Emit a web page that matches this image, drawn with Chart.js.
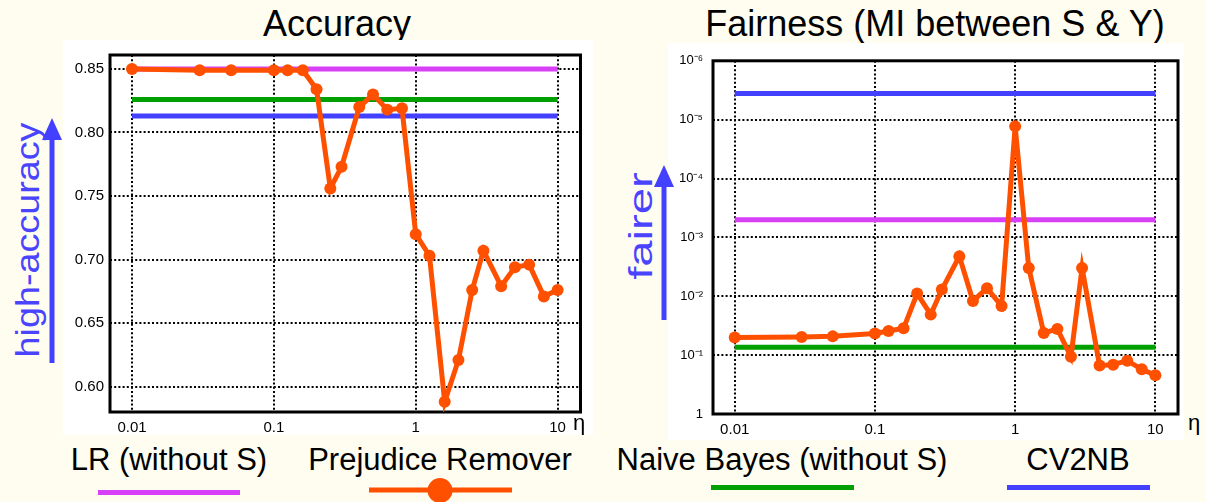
<!DOCTYPE html>
<html><head><meta charset="utf-8">
<script src="https://cdn.jsdelivr.net/npm/chart.js@4.4.0/dist/chart.umd.min.js"></script>
<style>
html,body{margin:0;padding:0;background:#fefdf0;}
body{width:1206px;height:502px;position:relative;overflow:hidden;font-family:"Liberation Sans",Arial,sans-serif;color:#000;}
.abs{position:absolute;white-space:nowrap;line-height:1;}
.title{font-size:36px;text-align:center;width:600px;}
.leg{font-size:31px;text-align:center;width:400px;}
.rot{color:#4a44ff;font-size:34px;}
.eta{font-size:22px;}
canvas{position:absolute;background:#fff;}
svg{position:absolute;left:0;top:0;}
</style></head>
<body>
<div class="abs title" style="left:37px;top:6px;">Accuracy</div>
<div class="abs title" style="left:635px;top:6px;">Fairness (MI between S &amp; Y)</div>

<div id="cL" style="position:absolute;left:63px;top:40px;width:530px;height:395px;"><canvas id="accChart" width="530" height="395"></canvas></div>
<div id="cR" style="position:absolute;left:668px;top:43px;width:516px;height:397px;"><canvas id="fairChart" width="516" height="397"></canvas></div>

<div class="abs rot" style="left:27px;top:240px;transform:translate(-50%,-50%) rotate(-90deg) scaleX(1.11);">high-accuracy</div>
<div class="abs rot" style="left:640px;top:226px;transform:translate(-50%,-50%) rotate(-90deg) scaleX(1.39);">fairer</div>

<div class="abs eta" style="left:573px;top:412px;">η</div>
<div class="abs eta" style="left:1188px;top:412px;">η</div>

<div class="abs leg" style="left:-31px;top:444px;">LR (without S)</div>
<div class="abs leg" style="left:240px;top:444px;">Prejudice Remover</div>
<div class="abs leg" style="left:582px;top:444px;">Naive Bayes (without S)</div>
<div class="abs leg" style="left:878px;top:444px;">CV2NB</div>

<svg width="1206" height="502">
  <line x1="52" y1="363" x2="52" y2="134" stroke="#4440ff" stroke-width="5"/>
  <polygon points="52,118 42,140 62,140" fill="#4440ff"/>
  <line x1="664" y1="320" x2="664" y2="181" stroke="#4440ff" stroke-width="5"/>
  <polygon points="664,165 654,187 674,187" fill="#4440ff"/>
  <line x1="98" y1="492.5" x2="240" y2="492.5" stroke="#d840f8" stroke-width="5"/>
  <line x1="369" y1="490" x2="512" y2="490" stroke="#ff5000" stroke-width="5"/>
  <circle cx="440" cy="490.5" r="12.5" fill="#ff5000"/>
  <line x1="711" y1="487.5" x2="854" y2="487.5" stroke="#00a000" stroke-width="5"/>
  <line x1="1007" y1="487.5" x2="1150" y2="487.5" stroke="#4440ff" stroke-width="5"/>
</svg>

<script>
// ---- data ----
const eta = [0.01, 0.03, 0.05, 0.1, 0.125, 0.16, 0.2, 0.25, 0.3, 0.4, 0.5, 0.63, 0.8, 1, 1.25, 1.6, 2, 2.5, 3, 4, 5, 6.3, 8, 10];
const accPR = [0.850, 0.849, 0.849, 0.849, 0.849, 0.849, 0.834, 0.756, 0.773, 0.820, 0.830, 0.818, 0.819, 0.720, 0.703, 0.588, 0.621, 0.676, 0.707, 0.679, 0.694, 0.696, 0.671, 0.676];
const fairPR = [0.050, 0.049, 0.048, 0.043, 0.039, 0.035, 0.0090, 0.0205, 0.0077, 0.0021, 0.012, 0.0073, 0.0147, 1.3e-5, 0.0033, 0.042, 0.036, 0.107, 0.0033, 0.15, 0.145, 0.124, 0.174, 0.22];
const baseX = [0.01, 10];
const accLR = 0.850, accNB = 0.826, accCV2NB = 0.813;
const fairLR = 5.0e-4, fairNB = 0.0736, fairCV2NB = 3.6e-6;
const xTicks = [0.01, 0.1, 1, 10];
const xTickLabels = ['0.01', '0.1', '1', '10'];
const accTicks = [0.60, 0.65, 0.70, 0.75, 0.80, 0.85];
const accTickLabels = ['0.60', '0.65', '0.70', '0.75', '0.80', '0.85'];
const fairTicks = [1e-6, 1e-5, 1e-4, 1e-3, 1e-2, 1e-1, 1];
const fairTickLabels = ['10⁻⁶', '10⁻⁵', '10⁻⁴', '10⁻³', '10⁻²', '10⁻¹', '1'];

const C_OR = '#ff5000', C_PU = '#d840f8', C_GR = '#00a000', C_BL = '#4440ff';
Chart.defaults.font.family = '"Liberation Sans", Arial, sans-serif';
Chart.defaults.color = '#000';

const frame = {
  id: 'frame',
  beforeDatasetsDraw(chart) {
    const {ctx, chartArea: a} = chart;
    ctx.save();
    ctx.strokeStyle = '#000';
    ctx.lineWidth = 3;
    ctx.strokeRect(a.left, a.top, a.right - a.left, a.bottom - a.top);
    ctx.restore();
  }
};

function hline(x, v, color, label) {
  return { label, data: x.map(xx => ({x: xx, y: v})), borderColor: color, backgroundColor: color,
           borderWidth: 5, pointRadius: 0, tension: 0 };
}
function prLine(yv) {
  return { label: 'Prejudice Remover', data: eta.map((e, i) => ({x: e, y: yv[i]})),
           borderColor: C_OR, backgroundColor: C_OR, borderWidth: 5, pointRadius: 6,
           pointBorderWidth: 0, pointHoverRadius: 6, tension: 0 };
}
const gridOpts = { color: '#000', lineWidth: 2, drawTicks: false };
const dash = [2, 2.2];

function mkXScale(h) {
  return {
    type: 'logarithmic', min: 0.0070, max: 14.5,
    afterBuildTicks: s => { s.ticks = xTicks.map(v => ({value: v})); },
    afterFit: s => { s.height = h; },
    ticks: { autoSkip: false, maxRotation: 0, padding: 7, font: {size: 15},
             callback: (v, i) => xTickLabels[i] },
    grid: gridOpts, border: { display: false, dash: dash }
  };
}

new Chart(document.getElementById('accChart'), {
  type: 'line',
  data: { datasets: [ prLine(accPR), hline(baseX, accLR, C_PU, 'LR (without S)'),
                      hline(baseX, accNB, C_GR, 'Naive Bayes (without S)'),
                      hline(baseX, accCV2NB, C_BL, 'CV2NB') ] },
  options: {
    responsive: false, animation: false, events: [],
    layout: { padding: { left: 0, right: 12.5, top: 12, bottom: 0 } },
    plugins: { legend: { display: false }, tooltip: { enabled: false } },
    scales: {
      x: mkXScale(23),
      y: {
        type: 'linear', min: 0.58, max: 0.861,
        afterBuildTicks: s => { s.ticks = accTicks.map(v => ({value: v})); },
        afterFit: s => { s.width = 47; },
        ticks: { padding: 6, font: {size: 15}, callback: (v, i) => accTickLabels[i] },
        grid: gridOpts, border: { display: false, dash: dash }
      }
    }
  },
  plugins: [frame]
});

new Chart(document.getElementById('fairChart'), {
  type: 'line',
  data: { datasets: [ prLine(fairPR), hline(baseX, fairLR, C_PU, 'LR (without S)'),
                      hline(baseX, fairNB, C_GR, 'Naive Bayes (without S)'),
                      hline(baseX, fairCV2NB, C_BL, 'CV2NB') ] },
  options: {
    responsive: false, animation: false, events: [],
    layout: { padding: { left: 0, right: 2.3, top: 14, bottom: 0 } },
    plugins: { legend: { display: false }, tooltip: { enabled: false } },
    scales: {
      x: mkXScale(26),
      y: {
        type: 'logarithmic', min: 1e-6, max: 1, reverse: true,
        afterBuildTicks: s => { s.ticks = fairTicks.map(v => ({value: v})); },
        afterFit: s => { s.width = 45; },
        ticks: { padding: 10, font: {size: 13}, callback: (v, i) => fairTickLabels[i] },
        grid: gridOpts, border: { display: false, dash: dash }
      }
    }
  },
  plugins: [frame]
});
</script>
</body></html>
